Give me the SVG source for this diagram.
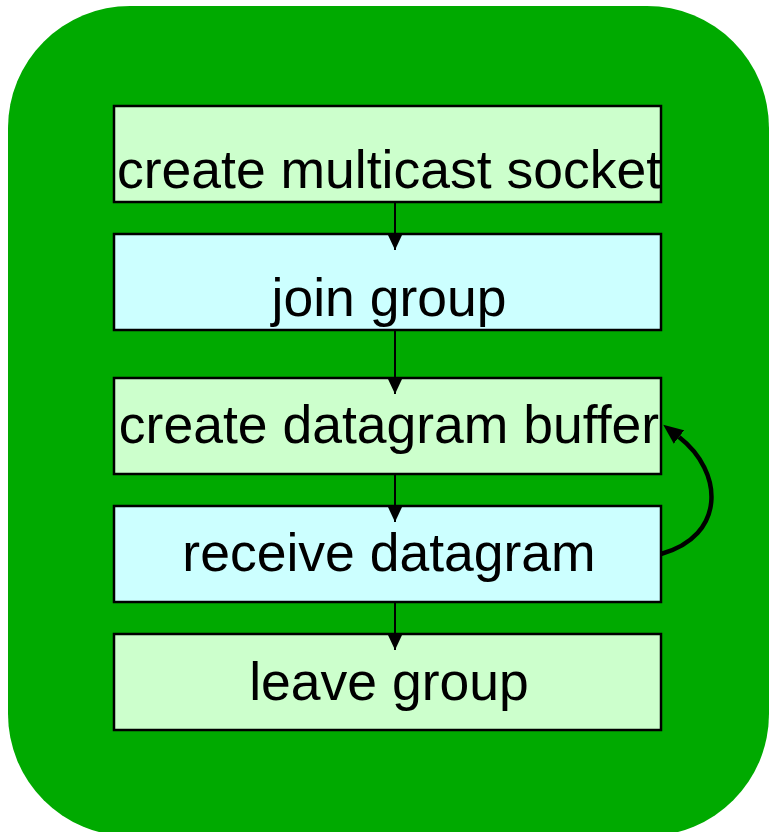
<svg xmlns="http://www.w3.org/2000/svg" width="769" height="832" viewBox="0 0 769 832">
<defs>
<style>
.bg{fill:#00AA00}
.g{fill:#CCFFCC;stroke:#000;stroke-width:2.5}
.c{fill:#CCFFFF;stroke:#000;stroke-width:2.5}
.t{font-family:"Liberation Sans",Arial,sans-serif;font-size:53.5px;fill:#000;text-anchor:middle}
.e{stroke:#000;stroke-width:2;fill:none}
.loop{stroke:#000;stroke-width:4.5;fill:none}
</style>
<marker id="ah" markerUnits="userSpaceOnUse" markerWidth="16" markerHeight="16" viewBox="0 0 16 15" refX="16" refY="7.5" orient="auto">
<path d="M0,0 L16,7.5 L0,15 Z" fill="#000"/>
</marker>
<marker id="ah2" markerUnits="userSpaceOnUse" markerWidth="20" markerHeight="18" viewBox="0 0 19 16" refX="0" refY="8" orient="auto">
<path d="M0,0 L19,8 L0,16 Z" fill="#000"/>
</marker>
</defs>
<rect class="bg" x="8" y="6" width="761" height="830" rx="122" ry="122"/>
<g id="n1"><rect class="g" x="114" y="106" width="547" height="96"/><text class="t" x="389" y="188">create multicast socket</text></g>
<g id="n2"><rect class="c" x="114" y="234" width="547" height="96"/><text class="t" x="389" y="316">join group</text></g>
<g id="n3"><rect class="g" x="114" y="378" width="547" height="96"/><text class="t" x="389" y="443">create datagram buffer</text></g>
<g id="n4"><rect class="c" x="114" y="506" width="547" height="96"/><text class="t" x="389" y="571">receive datagram</text></g>
<g id="n5"><rect class="g" x="114" y="634" width="547" height="96"/><text class="t" x="389" y="700">leave group</text></g>
<g id="edges">
<line class="e" x1="395" y1="202" x2="395" y2="250" marker-end="url(#ah)"/>
<line class="e" x1="395" y1="330" x2="395" y2="394" marker-end="url(#ah)"/>
<line class="e" x1="395" y1="474" x2="395" y2="522" marker-end="url(#ah)"/>
<line class="e" x1="395" y1="602" x2="395" y2="650" marker-end="url(#ah)"/>
<path class="loop" d="M661,554 C726,536 724,472 679,437" marker-end="url(#ah2)"/>
</g>
</svg>
